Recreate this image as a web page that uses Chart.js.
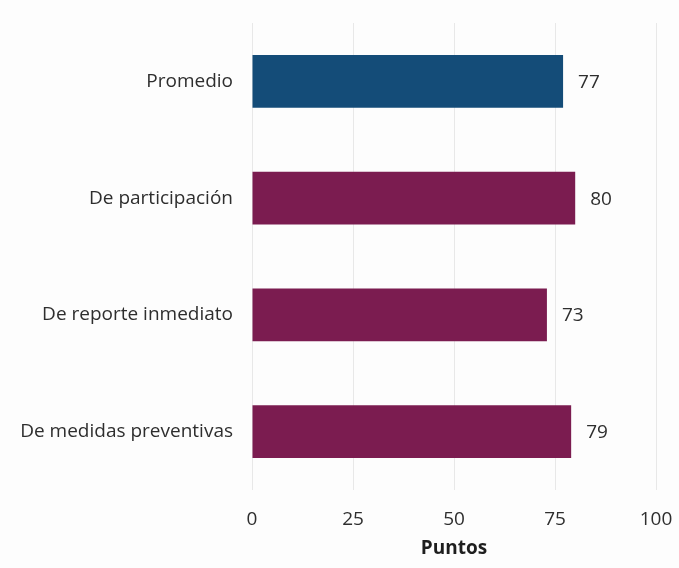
<!DOCTYPE html>
<html>
<head>
<meta charset="utf-8">
<script src="https://cdn.jsdelivr.net/npm/chart.js@4/dist/chart.umd.min.js"></script>
<style>
html,body{margin:0;padding:0;background:#fdfdfd;}
#wrap{width:679px;height:568px;}
</style>
</head>
<body>
<div id="wrap"><canvas id="c" width="679" height="568"></canvas></div>
<script>
const categories = ["Promedio", "De participación", "De reporte inmediato", "De medidas preventivas"];
const values = [77, 80, 73, 79];
const barColors = ["#144c78", "#7b1c50", "#7b1c50", "#7b1c50"];
const xTicks = [0, 25, 50, 75, 100];
const xTitle = "Puntos";

const FONT = "'Open Sans', 'Liberation Sans', sans-serif";
const TXT = "#2e2e2e";
const FS = 19;

const labelPlugin = {
  id: 'barLabels',
  afterDatasetsDraw(chart) {
    const ctx = chart.ctx;
    const meta = chart.getDatasetMeta(0);
    ctx.save();
    ctx.font = FS + "px " + FONT;
    ctx.fillStyle = TXT;
    ctx.textAlign = "left";
    ctx.textBaseline = "middle";
    meta.data.forEach((bar, i) => {
      ctx.fillText(String(values[i]), bar.x + 15, bar.y + 1);
    });
    ctx.restore();
  }
};

new Chart(document.getElementById('c'), {
  type: 'bar',
  data: {
    labels: categories,
    datasets: [{
      data: values,
      backgroundColor: barColors,
      borderWidth: 0,
      barPercentage: 0.9,
      categoryPercentage: 0.5
    }]
  },
  plugins: [labelPlugin],
  options: {
    indexAxis: 'y',
    responsive: false,
    animation: false,
    layout: { padding: { top: 23, right: 23, bottom: 0, left: 0 } },
    plugins: { legend: { display: false }, tooltip: { enabled: false } },
    scales: {
      x: {
        min: 0, max: 100,
        afterBuildTicks(scale) { scale.ticks = xTicks.map(v => ({ value: v })); },
        afterFit(scale) { scale.height = 78; scale.paddingLeft = 0; scale.paddingRight = 0; },
        grid: { color: "#e8e8e8", lineWidth: 1, drawTicks: false },
        border: { display: false },
        ticks: { color: TXT, font: { family: FONT, size: FS }, padding: 18 },
        title: {
          display: true, text: xTitle, color: "#1e1e1e",
          font: { family: FONT, size: FS, weight: 'bold' },
          padding: { top: 0, bottom: 8 }
        }
      },
      y: {
        afterFit(scale) { scale.width = 252; scale.paddingTop = 0; scale.paddingBottom = 0; },
        grid: { display: false, drawTicks: false },
        border: { display: false },
        ticks: { color: TXT, font: { family: FONT, size: FS }, padding: 19 }
      }
    }
  }
});
</script>
</body>
</html>
